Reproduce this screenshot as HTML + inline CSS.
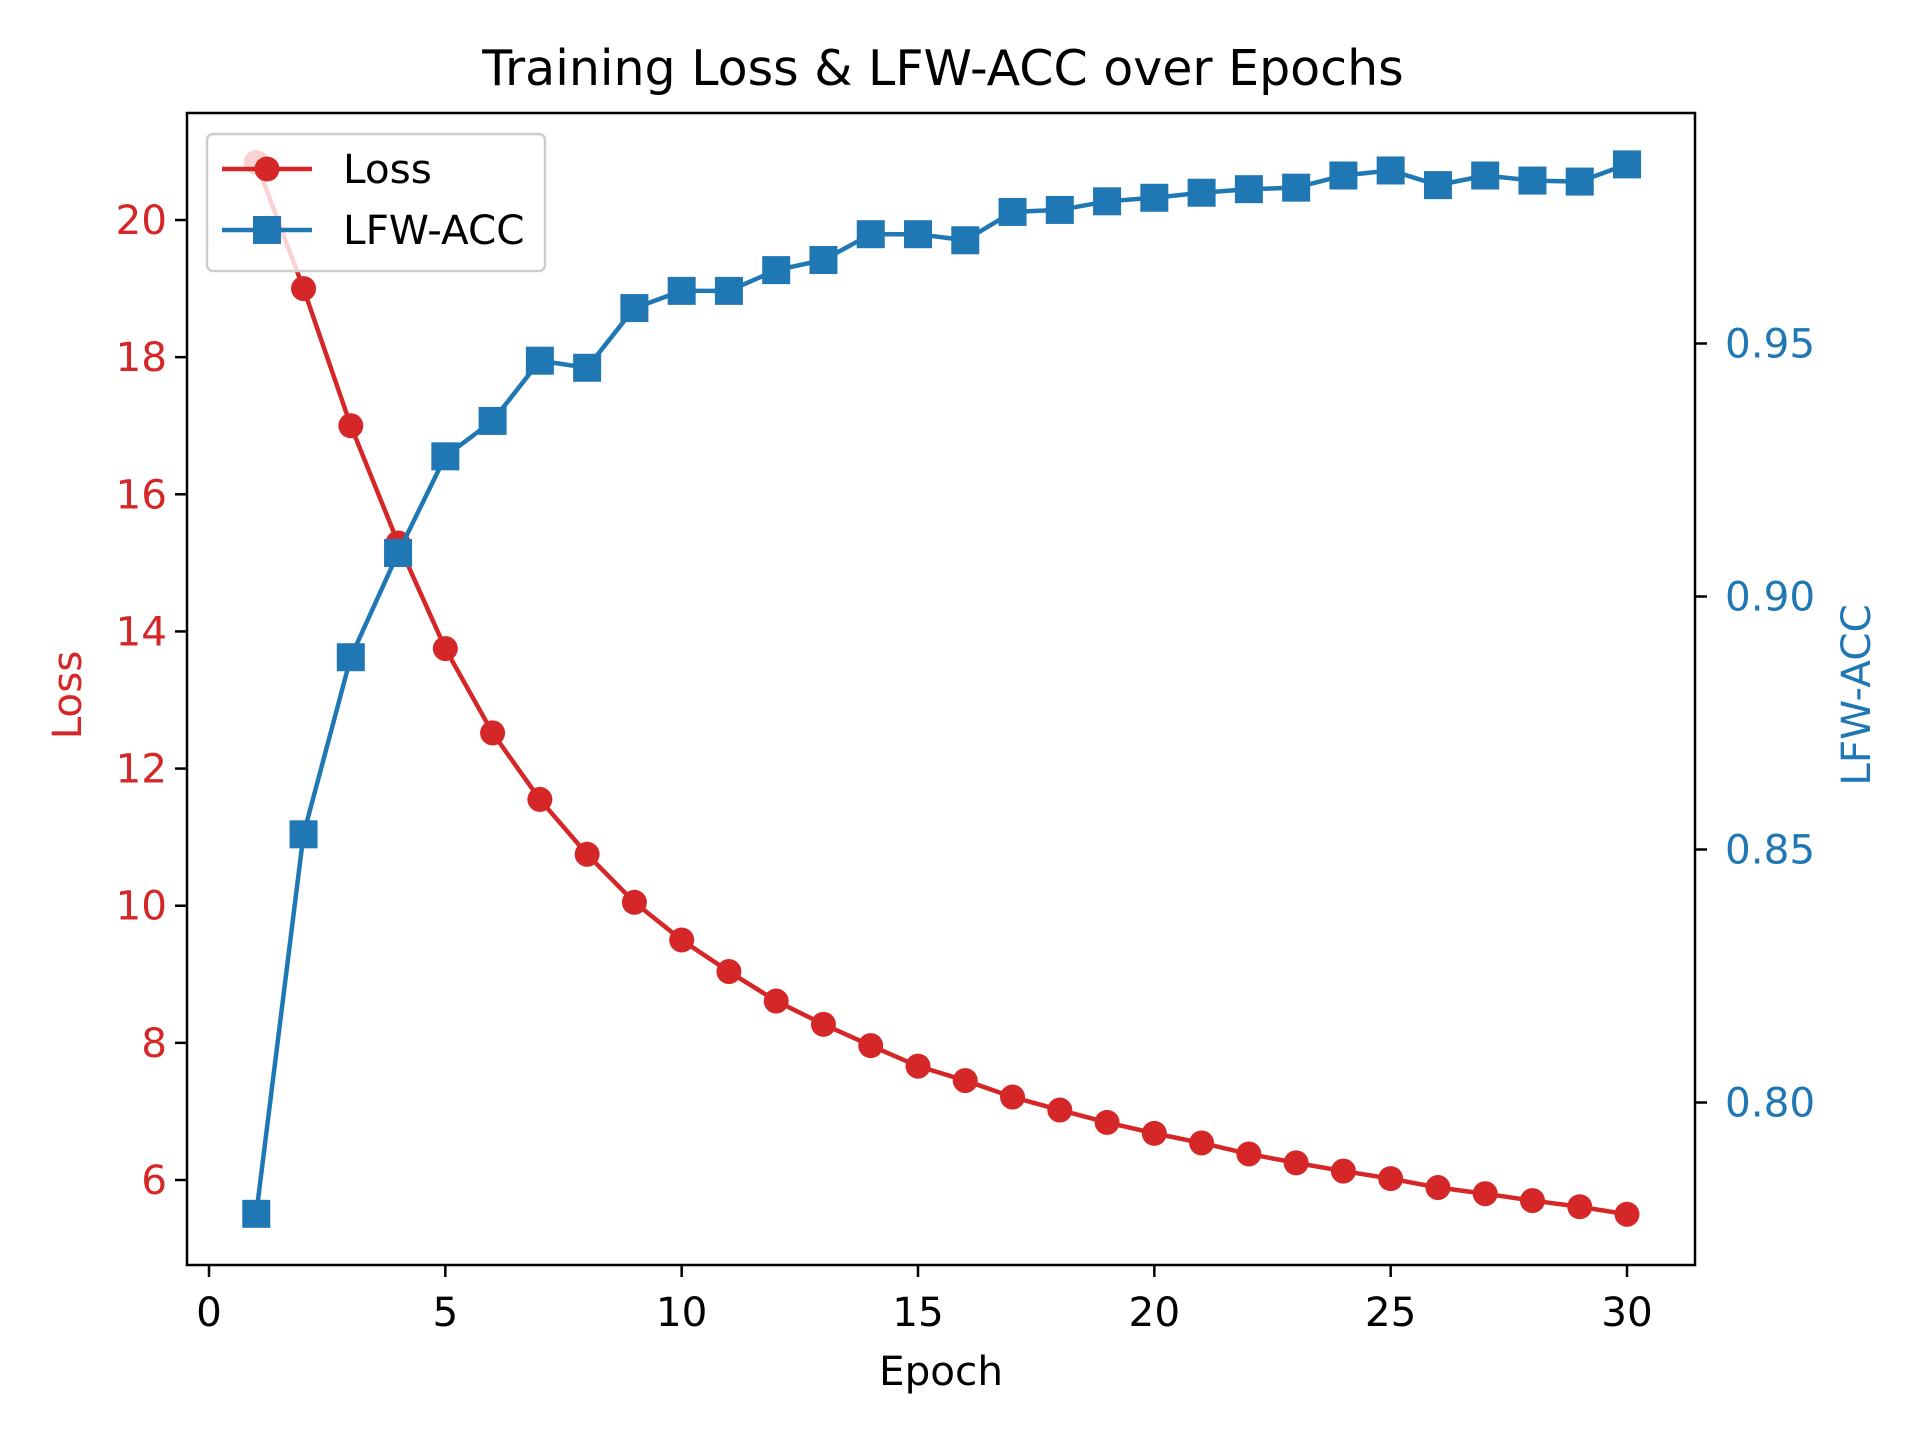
<!DOCTYPE html>
<html><head><meta charset="utf-8"><style>html,body{margin:0;padding:0;background:#fff}svg{display:block}text{font-family:"DejaVu Sans","Liberation Sans",sans-serif}</style></head>
<body>
<svg id="chart" width="1920" height="1440" xmlns="http://www.w3.org/2000/svg"></svg>
<script>
const epochs=[1,2,3,4,5,6,7,8,9,10,11,12,13,14,15,16,17,18,19,20,21,22,23,24,25,26,27,28,29,30];
const lossValues=[20.84,19.0,17.0,15.29,13.75,12.52,11.55,10.75,10.05,9.5,9.04,8.61,8.27,7.96,7.66,7.45,7.21,7.02,6.84,6.68,6.54,6.38,6.25,6.13,6.02,5.89,5.8,5.7,5.61,5.5];
const accValues=[0.778,0.853,0.888,0.9086,0.9277,0.9347,0.9466,0.9452,0.957,0.9604,0.9604,0.9645,0.9665,0.9716,0.9716,0.9704,0.976,0.9764,0.9781,0.9788,0.9798,0.9805,0.9808,0.9832,0.9842,0.9813,0.9832,0.9822,0.982,0.9854];
const xTicks=[0,5,10,15,20,25,30];
const lossTicks=[6,8,10,12,14,16,18,20];
const accTicks=[0.80,0.85,0.90,0.95];

const L=187,R=1695,T=113,B=1265;
const xS=v=>209+(v)*(1627-209)/30;
const yL=v=>1180-(v-6)*68.57;
const yA=v=>1102.5-(v-0.80)*5060;
const svg=document.getElementById('chart');
const NS='http://www.w3.org/2000/svg';
function mk(tag,attrs,parent){const e=document.createElementNS(NS,tag);for(const k in attrs)e.setAttribute(k,attrs[k]);(parent||svg).appendChild(e);return e;}
function txt(s,attrs){const e=mk('text',attrs);e.textContent=s;return e;}
const RED='#d62728',BLUE='#1f77b4';
const FS=40.5;

let t=txt('Training Loss & LFW-ACC over Epochs',{x:943,y:85,'font-size':49,'text-anchor':'middle',fill:'#000'});



xTicks.forEach(v=>{
  const l=mk('line',{x1:xS(v),x2:xS(v),y1:B,y2:B+12,stroke:'#000','stroke-width':2.5});
  
  
  const e=txt(String(v),{x:xS(v),y:1326,'font-size':FS,'text-anchor':'middle',fill:'#000'});
  
  
});
lossTicks.forEach(v=>{
  const l=mk('line',{x1:L-12,x2:L,y1:yL(v),y2:yL(v),stroke:'#000','stroke-width':2.5});
  
  
  const e=txt(String(v),{x:L-20,y:yL(v)+14,'font-size':FS,'text-anchor':'end',fill:RED});
  
  
});
accTicks.forEach(v=>{
  const l=mk('line',{x1:R,x2:R+12,y1:yA(v),y2:yA(v),stroke:'#000','stroke-width':2.5});
  
  
  const e=txt(v.toFixed(2),{x:R+30,y:yA(v)+14,'font-size':FS,'text-anchor':'start',fill:BLUE});
  
  
});
t=txt('Epoch',{x:941,y:1385,'font-size':FS,'text-anchor':'middle',fill:'#000'});


t=txt('Loss',{x:0,y:0,'font-size':FS,'text-anchor':'middle',fill:RED,transform:'translate(81,695) rotate(-90)'});


t=txt('LFW-ACC',{x:0,y:0,'font-size':FS,'text-anchor':'middle',fill:BLUE,transform:'translate(1870,695) rotate(-90)'});



let p=mk('polyline',{points:epochs.map((e,i)=>xS(e)+','+yL(lossValues[i])).join(' '),fill:'none',stroke:RED,'stroke-width':4.5});


epochs.forEach((e,i)=>{
  const c=mk('circle',{cx:xS(e),cy:yL(lossValues[i]),r:12.5,fill:RED});
  
  
});
p=mk('polyline',{points:epochs.map((e,i)=>xS(e)+','+yA(accValues[i])).join(' '),fill:'none',stroke:BLUE,'stroke-width':4.5});


epochs.forEach((e,i)=>{
  const r=mk('rect',{x:xS(e)-14,y:yA(accValues[i])-14,width:28,height:28,fill:BLUE});
  
  
});

const frame=mk('rect',{x:L,y:T,width:R-L,height:B-T,fill:'none',stroke:'#000','stroke-width':2.5});



const g=mk('g',{});


mk('rect',{x:207,y:134,width:338,height:137,rx:6,fill:'rgba(255,255,255,0.8)',stroke:'#ccc','stroke-width':2.5},g);
mk('line',{x1:222,x2:312,y1:169,y2:169,stroke:RED,'stroke-width':4.5},g);
mk('circle',{cx:267,cy:169,r:12.5,fill:RED},g);
let lt=mk('text',{x:343,y:183,'font-size':FS,fill:'#000'},g);lt.textContent='Loss';


mk('line',{x1:222,x2:312,y1:230,y2:230,stroke:BLUE,'stroke-width':4.5},g);
mk('rect',{x:253,y:216,width:28,height:28,fill:BLUE},g);
lt=mk('text',{x:343,y:244,'font-size':FS,fill:'#000'},g);lt.textContent='LFW-ACC';


</script>
</body></html>
